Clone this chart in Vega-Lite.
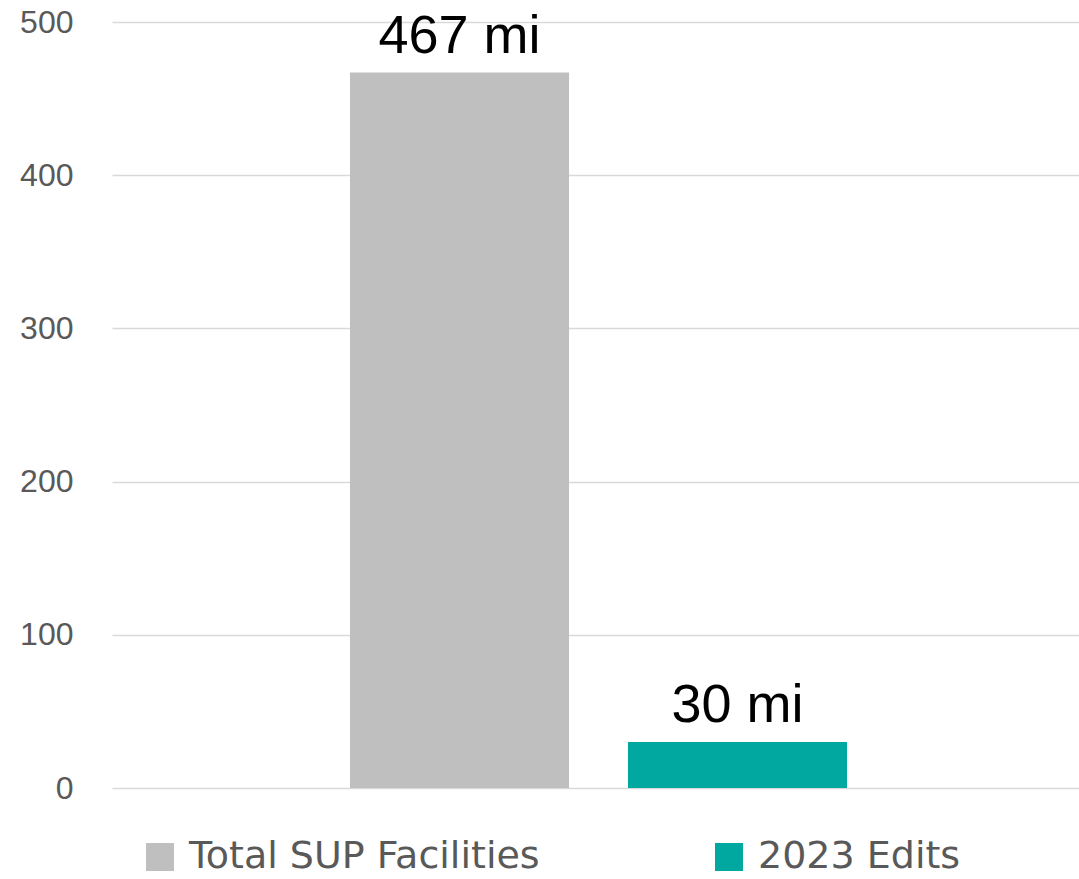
{
  "$schema": "https://vega.github.io/schema/vega-lite/v6.json",
  "width": 973,
  "height": 766,
  "autosize": {"type": "none"},
  "padding": {"left": 112, "top": 22, "right": 0, "bottom": 91},
  "background": "white",
  "config": {"view": {"stroke": null}},
  "data": {"values": [
    {"category": "Total SUP Facilities", "miles": 467, "label": "467 mi"},
    {"category": "2023 Edits", "miles": 30, "label": "30 mi"}
  ]},
  "encoding": {
    "x": {"field": "category", "type": "nominal", "sort": null, "axis": null,
          "scale": {"paddingInner": 0.212, "paddingOuter": 0.856}},
    "y": {"field": "miles", "type": "quantitative",
          "scale": {"domain": [0, 500]},
          "axis": {"title": null, "values": [0, 100, 200, 300, 400, 500], "domain": false, "ticks": false,
                   "labelPadding": 39, "labelFont": "Liberation Sans", "labelFontSize": 32, "labelColor": "#595959",
                   "gridColor": "#d9d9d9", "gridWidth": 1.5}}
  },
  "layer": [
    {"mark": {"type": "bar"},
     "encoding": {
       "color": {"field": "category", "type": "nominal", "sort": null,
                 "scale": {"domain": ["Total SUP Facilities", "2023 Edits"], "range": ["#bfbfbf", "#00a89f"]},
                 "legend": {"title": null, "orient": "none", "direction": "horizontal", "legendX": 29, "legendY": 816,
                            "symbolType": "square", "symbolSize": 784, "symbolStrokeWidth": 0, "symbolOpacity": 1,
                            "labelFont": "DejaVu Sans", "labelFontSize": 38, "labelColor": "#595959", "labelOffset": 10,
                            "columnPadding": 170, "labelLimit": 1000}}
     }},
    {"mark": {"type": "text", "baseline": "alphabetic", "dy": -20, "font": "Liberation Sans", "fontSize": 54, "color": "#000000"},
     "encoding": {"text": {"field": "label"}}}
  ]
}
